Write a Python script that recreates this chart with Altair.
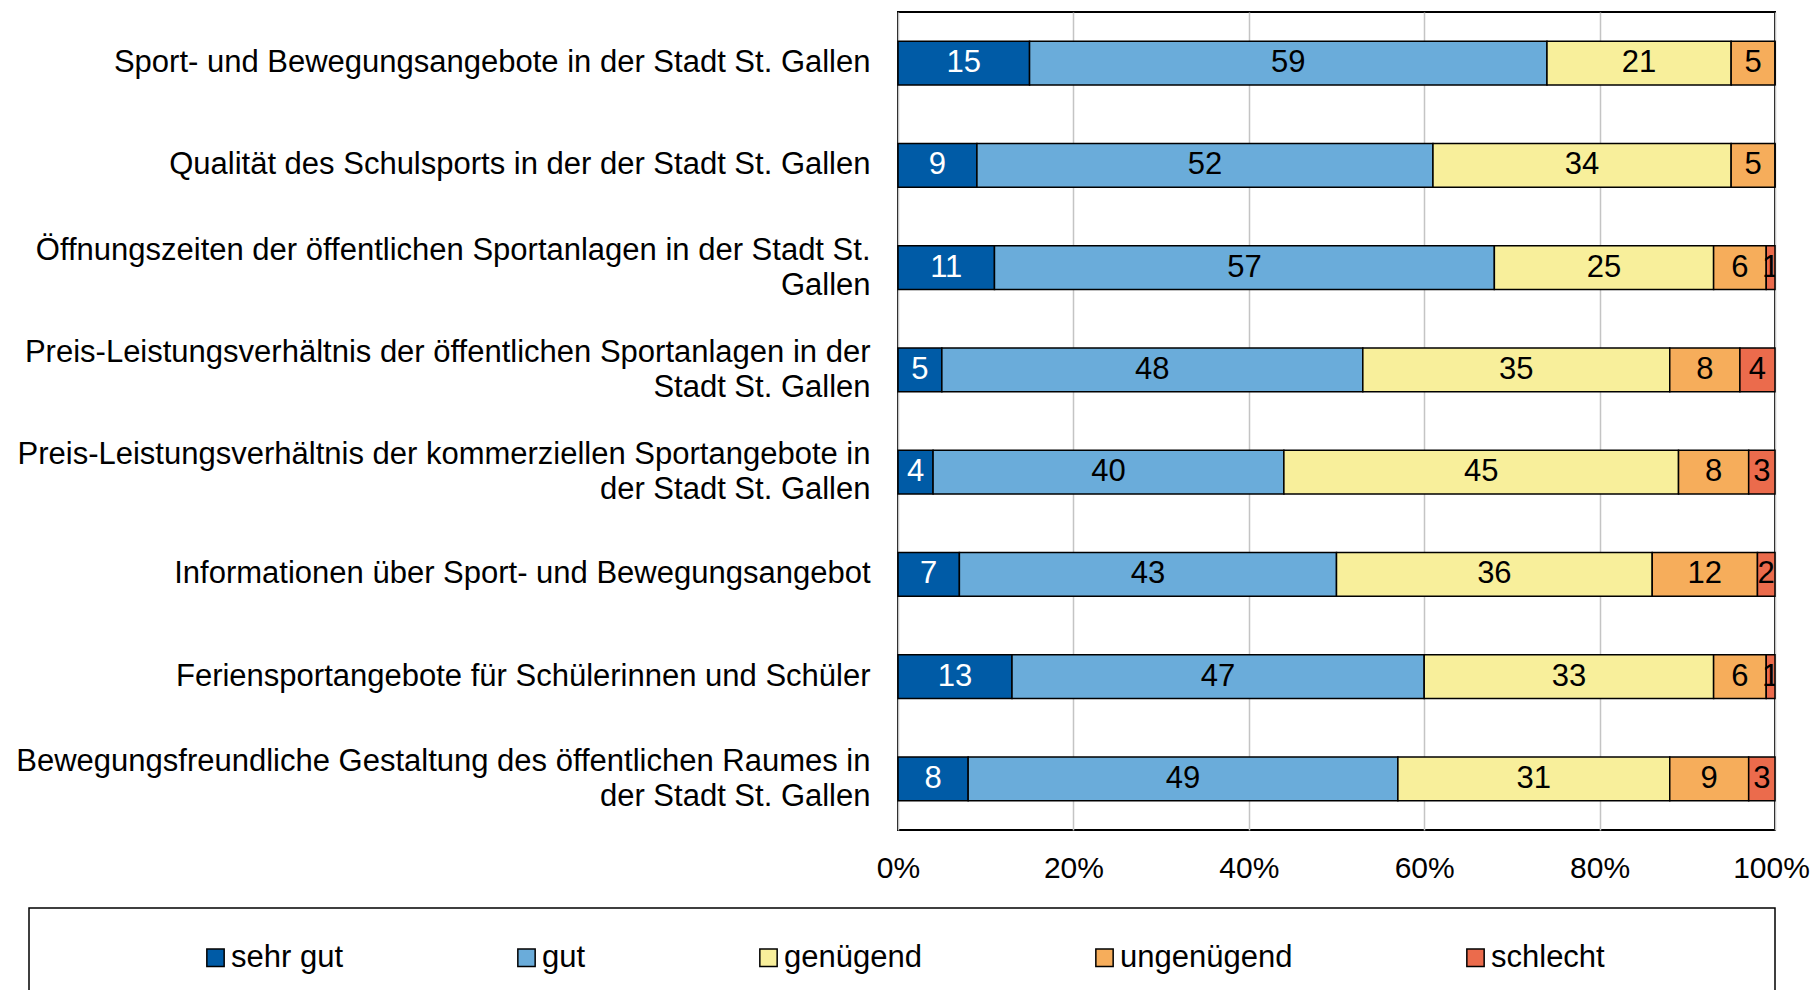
import altair as alt
import pandas as pd

categories = [
    "Sport- und Bewegungsangebote in der Stadt St. Gallen",
    "Qualität des Schulsports in der der Stadt St. Gallen",
    "Öffnungszeiten der öffentlichen Sportanlagen in der Stadt St.|Gallen",
    "Preis-Leistungsverhältnis der öffentlichen Sportanlagen in der|Stadt St. Gallen",
    "Preis-Leistungsverhältnis der kommerziellen Sportangebote in|der Stadt St. Gallen",
    "Informationen über Sport- und Bewegungsangebot",
    "Feriensportangebote für Schülerinnen und Schüler",
    "Bewegungsfreundliche Gestaltung des öffentlichen Raumes in|der Stadt St. Gallen",
]
levels = ["sehr gut", "gut", "genügend", "ungenügend", "schlecht"]
sehr_gut = [15, 9, 11, 5, 4, 7, 13, 8]
gut = [59, 52, 57, 48, 40, 43, 47, 49]
genuegend = [21, 34, 25, 35, 45, 36, 33, 31]
ungenuegend = [5, 5, 6, 8, 8, 12, 6, 9]
schlecht = [0, 0, 1, 4, 3, 2, 1, 3]
colors = ["#005BA6", "#6AACDA", "#F8EF9B", "#F6AD5B", "#EB6B4C"]
text_colors = ["white", "black", "black", "black", "black"]
x_ticks = [0, 20, 40, 60, 80, 100]

series = [sehr_gut, gut, genuegend, ungenuegend, schlecht]
rows = []
for i, c in enumerate(categories):
    for j, lev in enumerate(levels):
        rows.append({"cat": c, "level": lev, "order": j,
                     "value": series[j][i], "tcolor": text_colors[j]})
df = pd.DataFrame(rows)

FONT = "Liberation Sans"
FS = 31

y_enc = alt.Y("cat:N", sort=categories, title=None,
              scale=alt.Scale(paddingInner=0.57, paddingOuter=0.285),
              axis=alt.Axis(labelExpr="split(datum.label, '|')",
                            labelFontSize=FS, labelFont=FONT, labelColor="black",
                            labelLineHeight=35, labelLimit=2000, labelPadding=28,
                            labelOffset={"condition": {"test": "indexof(datum.value, '|') >= 0",
                                                       "value": -17},
                                         "value": 0},
                            ticks=False, domain=False, labelAlign="right"))

bars = alt.Chart(df).mark_bar(stroke="black", strokeWidth=1.5).encode(
    x=alt.X("value:Q", stack="zero", title=None,
            scale=alt.Scale(domain=[0, 100], nice=False),
            axis=alt.Axis(values=x_ticks, labelExpr="datum.value + '%'",
                          labelFontSize=30, labelFont=FONT, labelColor="black",
                          labelOffset={"condition": {"test": "datum.value >= 100",
                                                     "value": -4},
                                       "value": 0},
                          labelPadding=23, ticks=False, domain=False, labelFlush=False,
                          grid=True, gridColor="#C4C4C4", gridWidth=1.5)),
    y=y_enc,
    color=alt.Color("level:N", scale=alt.Scale(domain=levels, range=colors),
                    legend=alt.Legend(orient="none", legendX=-698, legendY=930,
                                      direction="horizontal", columns=5, title=None,
                                      symbolType="square", symbolSize=300,
                                      symbolStrokeColor="black", symbolStrokeWidth=1.5,
                                      labelFontSize=FS, labelFont=FONT, labelColor="black",
                                      labelLimit=500,
                                      columnPadding=167, labelOffset=0, padding=0)),
    order=alt.Order("order:Q"),
)

labels = alt.Chart(df).transform_window(
    cum="sum(value)", groupby=["cat"], sort=[alt.SortField("order")]
).transform_calculate(
    mid="datum.cum - datum.value / 2"
).transform_filter("datum.value > 0").mark_text(
    fontSize=FS, font=FONT, baseline="middle", align="center", clip=True
).encode(
    x=alt.X("mid:Q"),
    y=alt.Y("cat:N", sort=categories),
    text=alt.Text("value:Q"),
    color=alt.Color("tcolor:N", scale=None, legend=None),
)

box = alt.Chart(pd.DataFrame({"a": [0]})).mark_rect(
    filled=False, stroke="black", strokeWidth=1.5
).encode(x=alt.value(-869), x2=alt.value(877), y=alt.value(896), y2=alt.value(1000))

chart = alt.layer(bars, labels, box).properties(
    width=877, height=818,
    autosize=alt.AutoSizeParams(type="none"),
    padding={"left": 890, "top": 4, "right": 36, "bottom": 160},
).configure_view(stroke="black", strokeWidth=2)

chart.save("out.html", embed_options={"renderer": "svg", "actions": False})
